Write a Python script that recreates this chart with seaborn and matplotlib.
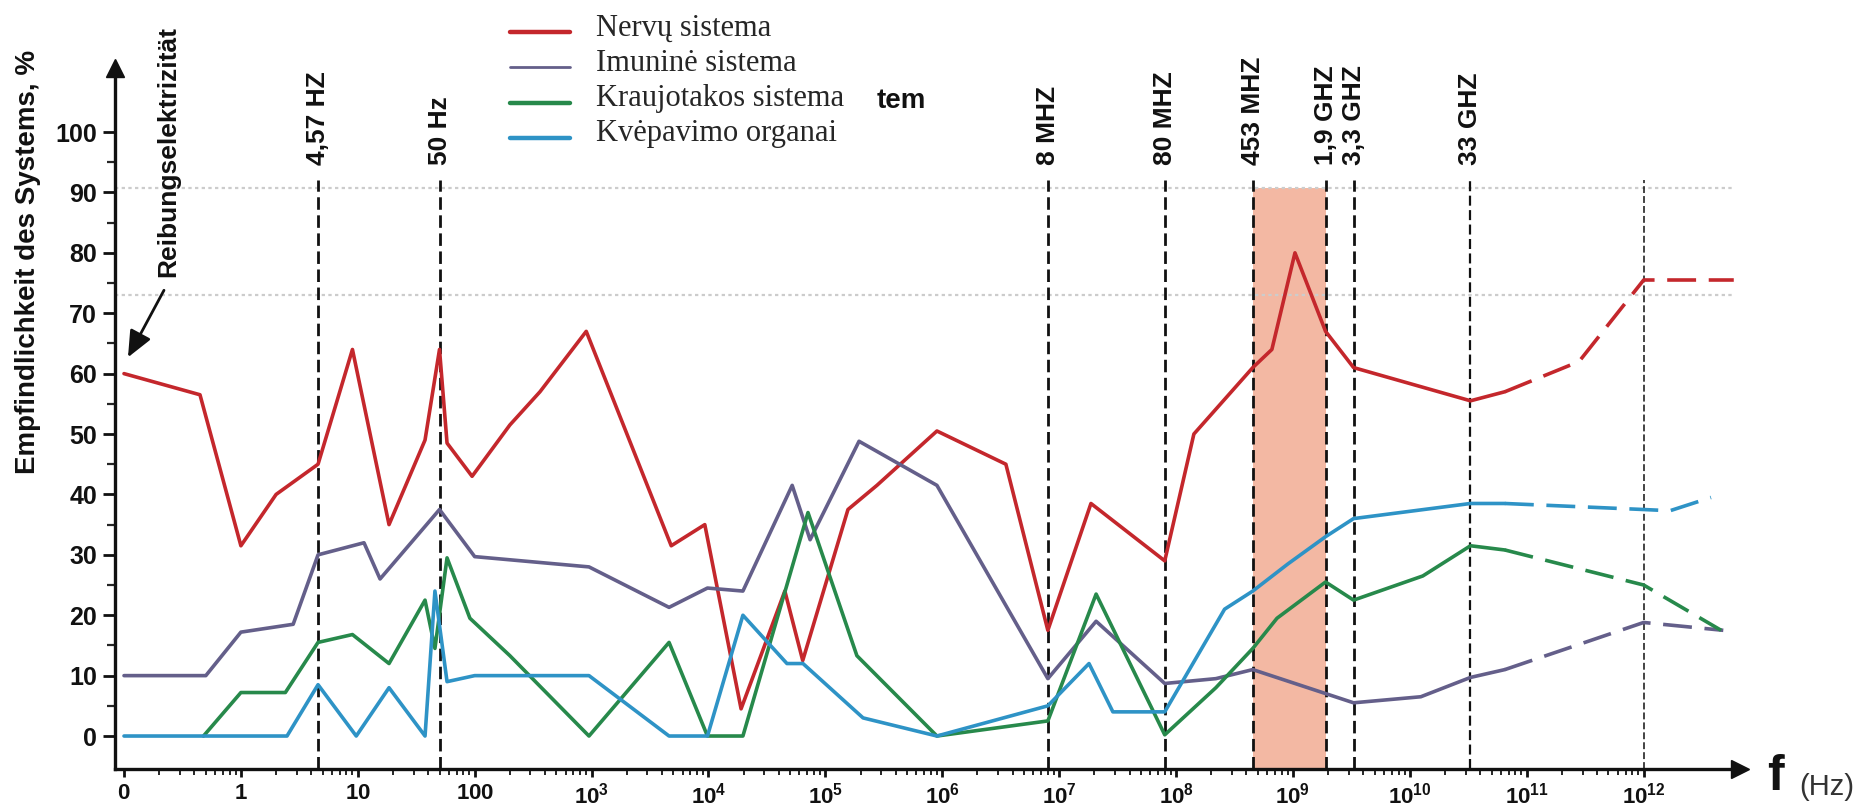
import matplotlib
matplotlib.use("Agg")
import matplotlib.pyplot as plt
import numpy as np
import pandas as pd
import seaborn as sns
from matplotlib.lines import Line2D
from matplotlib.ticker import FixedLocator
from matplotlib.transforms import Affine2D

# ---------------------------------------------------------------- data
systems = ["Nervų sistema", "Imuninė sistema", "Kraujotakos sistema", "Kvėpavimo organai"]
colors = ["#c4272c", "#645f8a", "#27894b", "#2e93c6"]

# frequency in Hz (0 = static electricity end of the axis), sensitivity in %
nerv_f = [0, 0.65, 1, 2, 4.57, 9, 18.5, 37.6, 50, 58, 95, 200, 362, 900, 4800, 9300,
          1.9e4, 4.5e4, 6.4e4, 1.56e5, 2.76e5, 9.0e5, 3.5e6, 8e6, 1.87e7, 8e7, 1.42e8,
          4.53e8, 6.6e8, 1.04e9, 1.9e9, 3.3e9, 3.3e10, 6.5e10]
nerv_v = [60, 56.5, 31.5, 40, 45, 64, 35, 49, 64, 48.5, 43, 51.5, 57, 67, 31.5, 35,
          4.5, 24, 12.5, 37.5, 41.5, 50.5, 45, 17.5, 38.5, 29, 50,
          61, 64, 80, 67, 61, 55.5, 57]
nerv_ext_f = [6.5e10, 2.8e11, 1e12, 5.9e12]
nerv_ext_v = [57, 62, 75.5, 75.5]

imun_f = [0, 0.7, 1, 2.8, 4.57, 11.3, 15.5, 50, 100, 950, 4600, 9800, 1.97e4, 5.2e4,
          7.4e4, 1.94e5, 9.0e5, 8e6, 2.07e7, 8e7, 2.19e8, 4.53e8, 3.3e9, 1.24e10,
          3.3e10, 6.5e10]
imun_v = [10, 10, 17.2, 18.5, 30, 32, 26, 37.5, 29.7, 28, 21.3, 24.5, 24, 41.5,
          32.5, 48.8, 41.5, 9.5, 19, 8.7, 9.5, 11, 5.5, 6.5, 9.7, 11]
imun_ext_f = [6.5e10, 1e12, 4.8e12]
imun_ext_v = [11, 18.8, 17.5]

kraujo_f = [0.68, 1, 2.4, 4.57, 9, 18.5, 37.6, 45.7, 58, 91, 200, 950, 4600, 9800,
            1.97e4, 7.1e4, 1.86e5, 9.0e5, 8e6, 2.07e7, 8e7, 2.19e8, 4.53e8, 7.3e8,
            1.9e9, 3.3e9, 1.29e10, 3.3e10, 6.5e10]
kraujo_v = [0, 7.2, 7.2, 15.5, 16.8, 12, 22.5, 14.5, 29.5, 19.5, 13.3, 0, 15.5, 0,
            0, 37, 13.3, 0, 2.5, 23.5, 0.2, 8, 14.5, 19.5,
            25.5, 22.5, 26.5, 31.5, 30.8]
kraujo_ext_f = [6.5e10, 1e12, 4.6e12]
kraujo_ext_v = [30.8, 25, 17.5]

kvep_f = [0, 2.48, 4.57, 9.7, 18.5, 37.6, 45.7, 58, 100, 950, 4600, 9800, 1.97e4,
          4.69e4, 6.43e4, 2.1e5, 9.0e5, 8e6, 1.8e7, 2.88e7, 8e7, 2.6e8, 4.53e8,
          9.06e8, 1.9e9, 3.3e9, 3.3e10, 6.5e10]
kvep_v = [0, 0, 8.5, 0, 8, 0, 24, 9, 10, 10, 0, 0, 20,
          12, 12, 3, 0, 5, 12, 4, 4, 21, 24,
          28.5, 33, 36, 38.5, 38.5]
kvep_ext_f = [6.5e10, 1e12, 1.68e12, 3.77e12]
kvep_ext_v = [38.5, 37.5, 37.3, 39.5]

# marked frequencies
mark_f = [4.57, 50, 8e6, 8e7, 4.53e8, 1.9e9, 3.3e9, 3.3e10, 1e12]
mark_labels = ["4,57 HZ", "50 Hz", "8 MHZ", "80 MHZ", "453 MHZ", "1,9 GHZ", "3,3 GHZ", "33 GHZ", ""]
band_f = [4.53e8, 1.9e9]
ref_levels = [90.7, 73.0]

x_ticks = [0, 1, 10, 100, 1e3, 1e4, 1e5, 1e6, 1e7, 1e8, 1e9, 1e10, 1e11, 1e12]
x_tick_labels = [r"$\mathbf{0}$", r"$\mathbf{1}$", r"$\mathbf{10}$", r"$\mathbf{100}$",
                 r"$\mathbf{10^{3}}$", r"$\mathbf{10^{4}}$", r"$\mathbf{10^{5}}$",
                 r"$\mathbf{10^{6}}$", r"$\mathbf{10^{7}}$", r"$\mathbf{10^{8}}$",
                 r"$\mathbf{10^{9}}$", r"$\mathbf{10^{10}}$", r"$\mathbf{10^{11}}$",
                 r"$\mathbf{10^{12}}$"]
y_ticks = [0, 10, 20, 30, 40, 50, 60, 70, 80, 90, 100]

# ---------------------------------------------------------------- table
series = {
    systems[0]: (nerv_f, nerv_v, nerv_ext_f, nerv_ext_v),
    systems[1]: (imun_f, imun_v, imun_ext_f, imun_ext_v),
    systems[2]: (kraujo_f, kraujo_v, kraujo_ext_f, kraujo_ext_v),
    systems[3]: (kvep_f, kvep_v, kvep_ext_f, kvep_ext_v),
}
rows = []
for name, (f, v, fe, ve) in series.items():
    rows += [(name, "measured", a, b) for a, b in zip(f, v)]
    rows += [(name, "extrapolated", a, b) for a, b in zip(fe, ve)]
df = pd.DataFrame(rows, columns=["system", "part", "f", "value"])

# ---------------------------------------------------------------- style
sns.set_theme(style="white")
plt.rcParams["font.family"] = ["Liberation Sans", "DejaVu Sans"]
plt.rcParams["mathtext.fontset"] = "custom"
plt.rcParams["mathtext.rm"] = "Liberation Sans"
plt.rcParams["mathtext.bf"] = "Liberation Sans:bold"

W, H = 1867, 810
fig = plt.figure(figsize=(W / 100, H / 100), dpi=100)
ax = fig.add_axes([115 / W, 41 / H, 1625 / W, 701 / H])

y_lo, y_hi = -5.46, 110.6
x_lo, x_hi = -0.077, 6.67e12

# highlighted mobile-phone band and reference levels
ax.fill_betweenx([y_lo, ref_levels[0]], band_f[0], band_f[1], color="#f3b8a3", lw=0, zorder=0.5)
ax.hlines(ref_levels, x_lo, 5.7e12, colors="#cccccc", linestyles=(0, (1.5, 1.5)), lw=1.6, zorder=0.6)

# vertical markers
for i, (fm, lab) in enumerate(zip(mark_f, mark_labels)):
    lw = 2.0 if i < 7 else (1.6 if i == 7 else 1.1)
    ax.vlines(fm, y_lo, 92, colors="#111111", linestyles=(0, (4.5, 2.0)), lw=lw, zorder=1)
    if lab:
        ax.text(fm, 94.5, lab, rotation=90, ha="center", va="bottom",
                fontsize=19, fontweight="bold", color="#111111")

sns.lineplot(data=df, x="f", y="value", hue="system", style="part",
             hue_order=systems, palette=colors,
             style_order=["measured", "extrapolated"],
             dashes={"measured": "", "extrapolated": (8, 3.5)},
             estimator=None, sort=True, lw=2.6, legend=False, ax=ax, zorder=3)

ax.set_xscale("symlog", linthresh=1, linscale=0.9)
ax.set_xlim(x_lo, x_hi)
ax.set_ylim(y_lo, y_hi)

ax.set_xticks(x_ticks)
ax.set_xticklabels(x_tick_labels)
minor = list(np.log10(np.arange(2, 10)))
for k in range(12):
    minor += [m * 10.0 ** k for m in range(2, 10)]
ax.xaxis.set_minor_locator(FixedLocator(minor))
ax.set_yticks(y_ticks)
ax.yaxis.set_minor_locator(FixedLocator([5, 15, 25, 35, 45, 55, 65, 75, 85, 95]))
for t in ax.get_yticklabels():
    t.set_fontweight("bold")

ax.tick_params(axis="x", which="major", direction="out", length=6, width=2,
               pad=4, labelsize=16, colors="#111111", bottom=True)
ax.tick_params(axis="x", which="minor", direction="out", length=4, width=1.4, bottom=True)
ax.tick_params(axis="y", which="major", direction="out", length=9, width=2,
               pad=4, labelsize=18, colors="#111111", left=True)
ax.tick_params(axis="y", which="minor", direction="out", length=6, width=1.6, left=True)

ax.set_xlabel("")
ax.set_ylabel("")
for s in ["top", "right"]:
    ax.spines[s].set_visible(False)
for s in ["left", "bottom"]:
    ax.spines[s].set_linewidth(2.4)
    ax.spines[s].set_color("#111111")
ax.plot([1], [0], marker=">", ms=13, color="#111111", transform=ax.transAxes, clip_on=False)
ax.plot([0], [1], marker="^", ms=13, color="#111111", transform=ax.transAxes, clip_on=False)

# friction electricity arrow
ax.annotate("", xy=(0.034, 62.7), xytext=(0.342, 73.8),
            arrowprops=dict(arrowstyle="-|>,head_length=0.8,head_width=0.35",
                            color="#111111", lw=2.0, mutation_scale=20,
                            shrinkA=0, shrinkB=0))
ax.text(0.376, 76.0, "Reibungselektrizität", rotation=90, ha="center", va="bottom",
        fontsize=19, fontweight="bold", color="#111111")

# axis captions
fig.text(28 / W, 1 - 262 / H, "Empfindlichkeit des Systems, %", rotation=90,
         ha="center", va="center", fontsize=20, fontweight="bold", color="#111111")
fig.text(1775 / W, 1 - 790 / H, "f", ha="center", va="baseline",
         fontsize=36, fontweight="bold", color="#111111")
fig.text(1827 / W, 1 - 795 / H, "(Hz)", ha="center", va="baseline",
         fontsize=21, color="#333333")
fig.text(877 / W, 1 - 108 / H, "tem", ha="left", va="baseline",
         fontsize=20, fontweight="bold", color="#111111")

# legend (handle lines sit on the text baseline)
handles = [Line2D([], [], color=c, lw=w) for c, w in zip(colors, [3.2, 2.0, 3.2, 3.2])]
leg = ax.legend(handles, systems, loc="upper left", bbox_to_anchor=(510 / W, 1 - 14 / H),
                bbox_transform=fig.transFigure, frameon=False,
                prop={"family": "Liberation Serif", "size": 22},
                handlelength=1.95, handletextpad=0.85, labelspacing=0.2,
                borderpad=0, borderaxespad=0)
for ln in leg.get_lines():
    ln.set_transform(ln.get_transform() + Affine2D().translate(0, -7))

fig.savefig("out.png", dpi=100, facecolor="white")
